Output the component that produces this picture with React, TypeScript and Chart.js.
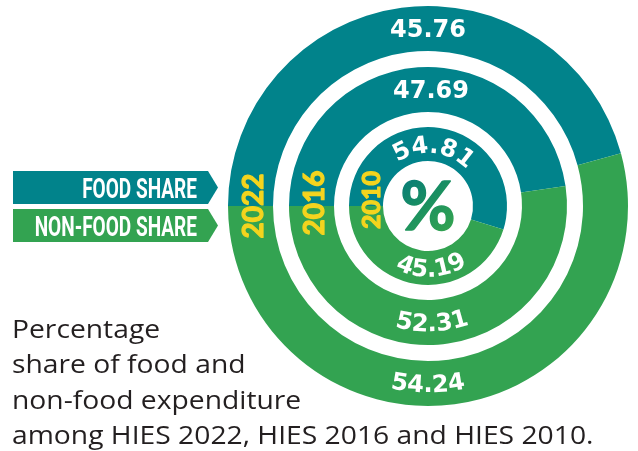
import React, { useEffect, useRef } from "react";
import { Chart, registerables } from "chart.js";

Chart.register(...registerables);

const categories = ["Food share", "Non-food share"];
const years = ["2022", "2016", "2010"];
const foodShare = [45.76, 47.69, 54.81];
const nonFoodShare = [54.24, 52.31, 45.19];
const legendLabels = ["FOOD SHARE", "NON-FOOD SHARE"];
const captionLines = [
  "Percentage",
  "share of food and",
  "non-food expenditure",
  "among HIES 2022, HIES 2016 and HIES 2010.",
];

const TEAL = "#01838B";
const GREEN = "#33A351";
const YELLOW = "#F4D41E";
const TEXT = "#231F20";
const FONT = "Lato, 'Open Sans', sans-serif";
const VALUE_FONT = "'DejaVu Sans', Lato, sans-serif";
const CAPTION_FONT = "'Open Sans', Lato, sans-serif";

function drawArcText(
  ctx: CanvasRenderingContext2D,
  text: string,
  cx: number,
  cy: number,
  rMid: number,
  centerAngle: number,
  top: boolean,
  capH: number
) {
  const rB = top ? rMid - capH / 2 : rMid + capH / 2;
  const chars = Array.from(text);
  const widths = chars.map((c) => ctx.measureText(c).width);
  const total = widths.reduce((a, b) => a + b, 0);
  const span = total / rB;
  let acc = 0;
  ctx.textAlign = "center";
  ctx.textBaseline = "alphabetic";
  chars.forEach((ch, i) => {
    const mid = acc + widths[i] / 2;
    acc += widths[i];
    const a = top ? centerAngle - span / 2 + mid / rB : centerAngle + span / 2 - mid / rB;
    ctx.save();
    ctx.translate(cx + rB * Math.cos(a), cy + rB * Math.sin(a));
    ctx.rotate(top ? a + Math.PI / 2 : a - Math.PI / 2);
    ctx.fillText(ch, 0, 0);
    ctx.restore();
  });
}

export default function App() {
  const ref = useRef<HTMLCanvasElement>(null);

  useEffect(() => {
    const canvas = ref.current;
    if (!canvas) return;
    const ringWeights = [45, 45, 34];
    const gapWeights = [16, 15];
    const datasets: any[] = [];
    const ringIndex: number[] = [];
    years.forEach((year, i) => {
      ringIndex.push(datasets.length);
      datasets.push({
        label: year,
        data: [foodShare[i], nonFoodShare[i]],
        backgroundColor: [TEAL, GREEN],
        borderWidth: 0,
        hoverBorderWidth: 0,
        hoverOffset: 0,
        weight: ringWeights[i],
      });
      if (i < years.length - 1) {
        datasets.push({
          label: "gap",
          data: [100],
          backgroundColor: "rgba(0,0,0,0)",
          borderWidth: 0,
          hoverBorderWidth: 0,
          hoverOffset: 0,
          weight: gapWeights[i],
        });
      }
    });

    // per-ring label settings
    const topCurved = [false, false, true];
    const topAngleOffset = [0, 3, 6];
    const bottomAngleOffset = [0, -2, -3];
    const valueFont = [24, 24, 24];
    const yearFont = [28, 28, 25];
    const yearDx = [2.5, 2, 5];
    const yearDy = [0, -3, -6];

    const overlay = {
      id: "overlay",
      afterDatasetsDraw(chart: any) {
        const ctx: CanvasRenderingContext2D = chart.ctx;
        ctx.save();
        ringIndex.forEach((di, i) => {
          const arc: any = chart.getDatasetMeta(di).data[0];
          const cx = arc.x;
          const cy = arc.y;
          const midR = (arc.innerRadius + arc.outerRadius) / 2;
          const fs = valueFont[i];
          const capH = fs * 0.73;
          ctx.fillStyle = "#ffffff";
          ctx.font = `bold ${fs}px ${VALUE_FONT}`;
          const foodText = foodShare[i].toFixed(2);
          const nonText = nonFoodShare[i].toFixed(2);
          if (topCurved[i]) {
            drawArcText(ctx, foodText, cx, cy, midR, -Math.PI / 2 + (topAngleOffset[i] * Math.PI) / 180, true, capH);
          } else {
            ctx.textAlign = "center";
            ctx.textBaseline = "alphabetic";
            ctx.fillText(foodText, cx + topAngleOffset[i], cy - midR + capH / 2);
          }
          drawArcText(ctx, nonText, cx, cy, midR, Math.PI / 2 + (bottomAngleOffset[i] * Math.PI) / 180, false, capH);

          // year label
          const yfs = yearFont[i];
          ctx.fillStyle = YELLOW;
          ctx.strokeStyle = YELLOW;
          ctx.lineWidth = 1.2;
          ctx.lineJoin = "round";
          ctx.font = `bold ${yfs}px ${FONT}`;
          ctx.save();
          ctx.translate(cx - midR + yearDx[i], cy + yearDy[i]);
          ctx.rotate(-Math.PI / 2);
          ctx.textAlign = "center";
          ctx.textBaseline = "alphabetic";
          ctx.fillText(years[i], 0, (yfs * 0.72) / 2);
          ctx.strokeText(years[i], 0, (yfs * 0.72) / 2);
          ctx.restore();
        });

        // center percent sign
        const a0: any = chart.getDatasetMeta(0).data[0];
        const g = ctx.createLinearGradient(a0.x - 20, a0.y - 25, a0.x + 20, a0.y + 25);
        g.addColorStop(0, "#0A7F75");
        g.addColorStop(0.45, "#1A9060");
        g.addColorStop(1, GREEN);
        ctx.fillStyle = g;
        ctx.strokeStyle = g;
        ctx.lineWidth = 1.5;
        ctx.font = `bold 67px ${FONT}`;
        ctx.textAlign = "center";
        ctx.textBaseline = "alphabetic";
        ctx.fillText("%", a0.x, a0.y + 24);
        ctx.strokeText("%", a0.x, a0.y + 24);

        // legend arrows
        const boxes = [
          { y0: 171, y1: 204, color: TEAL },
          { y0: 209, y1: 242, color: GREEN },
        ];
        boxes.forEach((b, i) => {
          ctx.fillStyle = b.color;
          ctx.beginPath();
          ctx.moveTo(13, b.y0);
          ctx.lineTo(208, b.y0);
          ctx.lineTo(218, (b.y0 + b.y1) / 2);
          ctx.lineTo(208, b.y1);
          ctx.lineTo(13, b.y1);
          ctx.closePath();
          ctx.fill();
          ctx.fillStyle = "#ffffff";
          ctx.font = `bold 28px Roboto, ${FONT}`;
          ctx.textAlign = "right";
          ctx.textBaseline = "alphabetic";
          ctx.save();
          ctx.translate(197, b.y1 - 6.5);
          ctx.scale(0.68, 1);
          ctx.fillText(legendLabels[i], 0, 0);
          ctx.restore();
        });

        // caption
        ctx.fillStyle = TEXT;
        ctx.font = `25px ${CAPTION_FONT}`;
        ctx.textAlign = "left";
        ctx.textBaseline = "alphabetic";
        captionLines.forEach((line, i) => {
          ctx.save();
          ctx.translate(12, 337.5 + i * 35.5);
          ctx.scale(1.13, 1);
          ctx.fillText(line, 0, 0);
          ctx.restore();
        });
        ctx.restore();
      },
    };

    const chart = new Chart(canvas, {
      type: "doughnut",
      data: { labels: categories, datasets },
      options: {
        responsive: false,
        animation: false,
        events: [],
        rotation: -90,
        cutout: 45,
        spacing: 0,
        layout: { padding: { left: 228, top: 6, right: 10, bottom: 45 } },
        plugins: { legend: { display: false }, tooltip: { enabled: false }, title: { display: false } },
      },
      plugins: [overlay],
    } as any);
    return () => chart.destroy();
  }, []);

  return (
    <div style={{ position: "absolute", left: 0, top: 0, width: 638, height: 451, background: "#ffffff" }}>
      <canvas ref={ref} width={638} height={451} style={{ display: "block", width: 638, height: 451 }} />
    </div>
  );
}
